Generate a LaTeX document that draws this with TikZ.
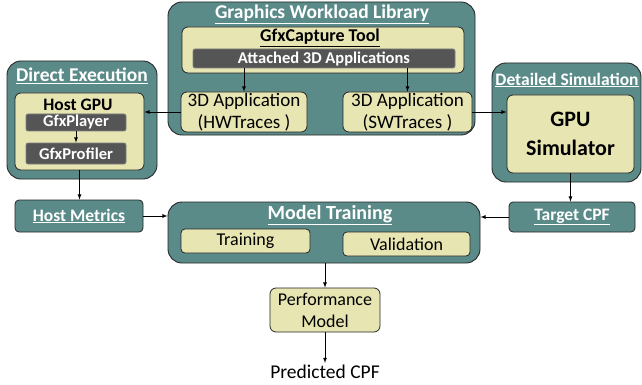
\documentclass[tikz,border=0pt]{standalone}
\usepackage{fontspec}
\setmainfont{Carlito}
\usetikzlibrary{positioning}
\definecolor{tealbox}{RGB}{90,139,137}
\definecolor{paleyel}{RGB}{231,229,177}
\definecolor{darkbar}{RGB}{85,85,85}
\tikzset{
  group/.style={draw=black!85, fill=tealbox, rounded corners=14pt, line width=0.9pt, inner sep=0pt},
  grouptitle/.style={text=white, font=\bfseries\fontsize{19.5}{20}\selectfont, inner sep=1pt},
  inner/.style={draw=black!85, fill=paleyel, rounded corners=6pt, line width=0.8pt, align=center, inner sep=0pt, font=\fontsize{18}{22}\selectfont},
  bar/.style={draw=black!50, fill=darkbar, rounded corners=2pt, line width=0.8pt, text=white, inner sep=0pt, font=\bfseries\fontsize{16.5}{17}\selectfont},
  metric/.style={draw=black!85, fill=tealbox, rounded corners=4pt, line width=0.8pt, text=white, inner sep=0pt, font=\bfseries\fontsize{17.5}{18}\selectfont},
  flow/.style={thick, ->, >=latex},
}
\begin{document}
\begin{tikzpicture}[x=1pt, y=-1pt]
    \useasboundingbox (0,0) rectangle (642,385);
    % workload library
    \node[group, minimum width=307, minimum height=133] (gwl) at (321.5,68.5) {};
    \node[grouptitle] (gwltitle) at (322,14) {\underline{Graphics Workload Library}};
    \node[inner, minimum width=282, minimum height=46] (capture) at (323,50) {};
    \node[font=\bfseries\fontsize{18}{18}\selectfont, inner sep=1pt] (capturetitle) at (320,38) {\underline{GfxCapture Tool}};
    \node[bar, minimum width=262, minimum height=19] (attached) at (324,58.5) {Attached 3D Applications};
    \node[inner, minimum width=126, minimum height=40, font=\fontsize{19}{22}\selectfont] (hwapp) at (244,112) {3D Application\\(HWTraces )};
    \node[inner, minimum width=129, minimum height=40, font=\fontsize{19}{22}\selectfont] (swapp) at (407.5,112) {3D Application\\(SWTraces )};
    % direct execution
    \node[group, minimum width=150, minimum height=118] (direct) at (82,120) {};
    \node[grouptitle] (directtitle) at (82,76) {\underline{Direct Execution}};
    \node[inner, minimum width=129, minimum height=77] (hostgpu) at (79.5,131.5) {};
    \node[font=\bfseries\fontsize{17.5}{18}\selectfont, inner sep=1pt] (hostgputitle) at (78,105) {Host GPU};
    \node[bar, minimum width=100, minimum height=17] (player) at (76,122.5) {GfxPlayer};
    \node[bar, minimum width=100, minimum height=21] (profiler) at (76,153.5) {GfxProfiler};
    \node[metric, minimum width=128, minimum height=32] (hostmetrics) at (79,216) {\underline{Host Metrics}};
    % detailed simulation
    \node[group, minimum width=149, minimum height=119] (detailed) at (566.5,122.5) {};
    \node[grouptitle, font=\bfseries\fontsize{17.5}{18}\selectfont] (detailedtitle) at (567,80) {\underline{Detailed Simulation}};
    \node[inner, minimum width=127, minimum height=78, font=\bfseries\fontsize{22}{29}\selectfont] (gpusim) at (570.5,134) {GPU\\Simulator};
    \node[metric, minimum width=126, minimum height=30] (targetcpf) at (572,217) {\underline{Target CPF}};
    % model training
    \node[group, minimum width=312, minimum height=61] (mt) at (324,232.5) {};
    \node[grouptitle, font=\bfseries\fontsize{20}{20}\selectfont] (mttitle) at (330,215) {\underline{Model Training}};
    \node[inner, minimum width=129, minimum height=24, rounded corners=4pt] (train) at (245.5,241) {Training};
    \node[inner, minimum width=127, minimum height=24, rounded corners=4pt] (valid) at (406.5,244) {Validation};
    \node[inner, minimum width=110, minimum height=44] (perf) at (325,310) {Performance\\Model};
    \node[font=\fontsize{19.5}{20}\selectfont, inner sep=2pt] (predicted) at (325,372) {Predicted CPF};
    % arrows
    \draw[flow] (attached.south -| hwapp) -- (hwapp.north);
    \draw[flow] (attached.south -| swapp) -- (swapp.north);
    \draw[flow] (hwapp.west) -- (hwapp.west -| hostgpu.east);
    \draw[flow] (swapp.east) -- (swapp.east -| gpusim.west);
    \draw[flow] (player.south) -- (profiler.north);
    \draw[flow] (hostgpu.south) -- (hostgpu.south |- hostmetrics.north);
    \draw[flow] (gpusim.south) -- (gpusim.south |- targetcpf.north);
    \draw[flow] (hostmetrics.east) -- (hostmetrics.east -| mt.west);
    \draw[flow] (targetcpf.west) -- (targetcpf.west -| mt.east);
    \draw[flow] (mt.south -| perf) -- (perf.north);
    \draw[flow] (perf.south) -- (predicted.north);
\end{tikzpicture}
\end{document}
